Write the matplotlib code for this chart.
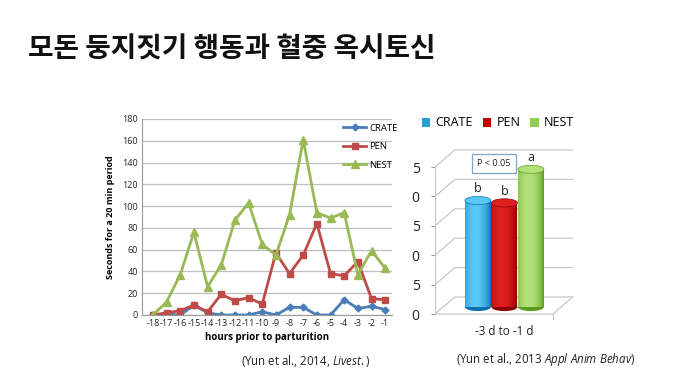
import numpy as np
import matplotlib
matplotlib.use('Agg')
import matplotlib.pyplot as plt
from matplotlib.patches import Rectangle, Ellipse, Patch
from matplotlib.colors import LinearSegmentedColormap

plt.rcParams['font.family'] = ['Open Sans', 'DejaVu Sans']
plt.rcParams['axes.unicode_minus'] = False
plt.rcParams['mathtext.fontset'] = 'custom'
plt.rcParams['mathtext.rm'] = 'Open Sans'
plt.rcParams['mathtext.it'] = 'Open Sans:italic'

# line chart data (hours prior to parturition)
hours = list(range(-18, 0))
crate = [0, 1, 0, 9, 2, 0, 0, 0, 3, 0, 7, 7, 0, 0, 14, 6, 8, 5]
pen = [0, 2, 4, 9, 3, 19, 13, 16, 10, 57, 38, 55, 84, 38, 36, 49, 15, 14]
nest = [0, 12, 37, 76, 26, 46, 87, 103, 65, 55, 92, 161, 94, 89, 94, 37, 59, 43]

# bar chart data
bar_groups = ['CRATE', 'PEN', 'NEST']
bar_values = [18.1, 17.7, 23.4]
bar_letters = ['b', 'b', 'a']
bar_ticks = [0, 5, 10, 15, 20, 25]
bar_ticklabels = ['0', '5', '0', '5', '0', '5']

W, H = 680, 390
fig = plt.figure(figsize=(6.8, 3.9), dpi=100)
fig.patch.set_facecolor('white')

def px_axes(x0, y0, x1, y1):
    return fig.add_axes([x0 / W, 1 - y1 / H, (x1 - x0) / W, (y1 - y0) / H])

# title
fig.text(28 / W, 1 - 50 / H, '모돈 둥지짓기 행동과 혈중 옥시토신', fontsize=20,
         fontweight='bold', family=['Noto Sans CJK KR', 'DejaVu Sans'],
         va='center', ha='left', color='#111111')

# ---- left line chart ----
ax = px_axes(142, 119, 392, 315)
ax.plot(hours, crate, color='#4a7ebb', lw=2, marker='D', ms=3.5, label='CRATE')
ax.plot(hours, pen, color='#be4b48', lw=2, marker='s', ms=5, label='PEN')
ax.plot(hours, nest, color='#98b954', lw=2, marker='^', ms=6, label='NEST')
ax.set_xlim(-18.8, -0.5)
ax.set_ylim(0, 180)
ax.set_yticks(range(0, 181, 20))
ax.set_xticks(hours)
ax.tick_params(labelsize=6.5, length=0, pad=3, colors='#222222')
ax.grid(axis='y', color='#bfbfbf', lw=0.9)
ax.set_axisbelow(True)
for s in ['top', 'right']:
    ax.spines[s].set_visible(False)
ax.spines['left'].set_color('#999999')
ax.spines['bottom'].set_color('#999999')
ax.set_xlabel('hours prior to parturition', fontsize=7, fontweight='bold', labelpad=3)
ax.set_ylabel('Seconds for a 20 min period', fontsize=6.5, fontweight='bold', labelpad=5)
ax.legend(loc='upper right', frameon=False, fontsize=6.8, handlelength=2.4,
          handletextpad=0.3, borderaxespad=0.1, labelspacing=1.0,
          bbox_to_anchor=(1.04, 1.0))

# ---- right 3D-style bar chart ----
bx = px_axes(435, 140, 590, 330)
bx.set_xlim(-1.62, 4.23)
bx.set_ylim(-2.72, 29.6)
for s in bx.spines.values():
    s.set_visible(False)
bx.set_xticks([])
bx.set_yticks(bar_ticks)
bx.set_yticklabels(bar_ticklabels)
bx.tick_params(axis='y', labelsize=10, length=3, pad=8, colors='#999999', labelcolor='#222222')

x_front, x_back_l, x_back_r, x_front_r = -1.62, -0.87, 3.58, 2.83
dy = 2.9
grid_c = '#c8c8c8'
for v in bar_ticks:
    bx.plot([x_front, x_back_l, x_back_r], [v, v + dy, v + dy], color=grid_c, lw=0.9)
bx.plot([x_front, x_front], [0, 25], color=grid_c, lw=0.9)
bx.plot([x_front, x_front_r, x_back_r], [0, 0, dy], color=grid_c, lw=0.9)
bx.plot([x_front_r, x_front_r], [0, -0.8], color=grid_c, lw=0.9)

bar_cols = [('#0a6fae', '#58c8f5'), ('#8a0000', '#e02020'), ('#5a9a1e', '#b4e07a')]
base = 1.2
bw = 0.98
cap_h = 1.4
grad = np.linspace(0, 1, 100)
grad = np.sin(np.pi * (0.15 + 0.85 * grad)) ** 0.7
grad = grad.reshape(1, -1)
for i, (val, (dark, light)) in enumerate(zip(bar_values, bar_cols)):
    cmap = LinearSegmentedColormap.from_list('c%d' % i, [dark, light])
    top = base + val
    body = Rectangle((i - bw / 2, base), bw, val, facecolor='none', edgecolor='none')
    bx.add_patch(body)
    im = bx.imshow(grad, cmap=cmap, aspect='auto', extent=(i - bw / 2, i + bw / 2, base, top),
                   zorder=3, vmin=0, vmax=1)
    im.set_clip_path(body)
    bx.add_patch(Ellipse((i, base), bw, cap_h, facecolor=dark, edgecolor='none', zorder=2.9))
    bx.add_patch(Ellipse((i, top), bw, cap_h, facecolor=light, edgecolor=dark, lw=0.5, zorder=4))
    bx.text(i, top + 0.9, bar_letters[i], ha='center', va='bottom', fontsize=9, color='#222222')

bx.text(0.6, 25.6, 'P < 0.05', ha='center', va='center', fontsize=6.5, color='#222222',
        bbox=dict(boxstyle='square,pad=0.6', fc='white', ec='#7fa6c4', lw=0.9))
bx.text(1.0, -1.9, '-3 d to -1 d', ha='center', va='top', fontsize=8.5, color='#222222')

legend_cols = ['#2e9ad8', '#c00000', '#8fd14f']
handles = [Patch(facecolor=c, edgecolor='none') for c in legend_cols]
fig.legend(handles, bar_groups, loc='center', bbox_to_anchor=(498 / W, 1 - 123 / H), ncol=3,
           frameon=False, fontsize=9, handlelength=0.7, handleheight=0.7,
           handletextpad=0.4, columnspacing=0.8)

# captions
fig.text(306 / W, 1 - 361 / H, r'(Yun et al., 2014, $\mathit{Livest.}$)', fontsize=8.3,
         ha='center', va='center', color='#222222')
fig.text(546 / W, 1 - 360 / H, r'(Yun et al., 2013 $\mathit{Appl\ Anim\ Behav}$)', fontsize=8.3,
         ha='center', va='center', color='#222222')

fig.savefig('out.png', dpi=100, facecolor='white')
